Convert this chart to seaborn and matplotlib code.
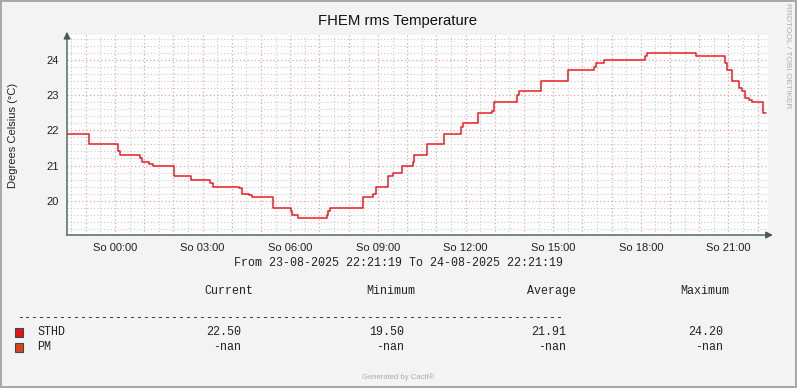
# Cacti / RRDtool style temperature graph rebuilt with seaborn
import matplotlib
matplotlib.use("Agg")
import matplotlib.pyplot as plt
import matplotlib.dates as mdates
import numpy as np
import pandas as pd
import seaborn as sns
from matplotlib import ticker
from matplotlib.patches import Rectangle

# step changes of the STHD sensor (time of change, new value)
times = ["2025-08-23 22:21", "2025-08-23 23:07", "2025-08-24 00:06", "2025-08-24 00:10",
         "2025-08-24 00:51", "2025-08-24 00:55", "2025-08-24 01:10", "2025-08-24 01:17",
         "2025-08-24 02:01", "2025-08-24 02:37", "2025-08-24 03:15", "2025-08-24 03:22",
         "2025-08-24 04:14", "2025-08-24 04:20", "2025-08-24 04:35", "2025-08-24 04:42",
         "2025-08-24 05:25", "2025-08-24 06:01", "2025-08-24 06:04", "2025-08-24 06:16",
         "2025-08-24 07:16", "2025-08-24 07:18", "2025-08-24 07:22", "2025-08-24 08:29",
         "2025-08-24 08:50", "2025-08-24 08:57", "2025-08-24 09:21", "2025-08-24 09:31",
         "2025-08-24 09:49", "2025-08-24 10:12", "2025-08-24 10:15", "2025-08-24 10:41",
         "2025-08-24 11:15", "2025-08-24 11:51", "2025-08-24 11:54", "2025-08-24 12:25",
         "2025-08-24 12:54", "2025-08-24 12:59", "2025-08-24 13:46", "2025-08-24 13:49",
         "2025-08-24 14:34", "2025-08-24 15:30", "2025-08-24 15:31", "2025-08-24 16:23",
         "2025-08-24 16:28", "2025-08-24 16:44", "2025-08-24 18:08", "2025-08-24 18:12",
         "2025-08-24 19:53", "2025-08-24 20:54", "2025-08-24 20:57", "2025-08-24 21:08",
         "2025-08-24 21:22", "2025-08-24 21:28", "2025-08-24 21:35", "2025-08-24 21:42",
         "2025-08-24 21:49", "2025-08-24 22:11", "2025-08-24 22:18"]
temps = [21.9, 21.6, 21.4, 21.3,
         21.2, 21.1, 21.05, 21.0,
         20.7, 20.6, 20.5, 20.4,
         20.35, 20.2, 20.15, 20.1,
         19.8, 19.7, 19.6, 19.5,
         19.6, 19.7, 19.8, 20.1,
         20.2, 20.4, 20.7, 20.8,
         21.0, 21.1, 21.3, 21.6,
         21.9, 22.1, 22.2, 22.5,
         22.55, 22.8, 23.0, 23.1,
         23.4, 23.45, 23.7, 23.8,
         23.9, 24.0, 24.1, 24.2,
         24.1, 23.9, 23.7, 23.4,
         23.2, 23.1, 22.9, 22.85,
         22.8, 22.5, 22.5]

start = "2025-08-23 22:21:19"
end = "2025-08-24 22:21:19"
yticks = [20, 21, 22, 23, 24]

legend_cols = ["Current", "Minimum", "Average", "Maximum"]
sthd_stats = ["22.50", "19.50", "21.91", "24.20"]
pm_stats = ["-nan", "-nan", "-nan", "-nan"]

W, H = 797, 388
bg = "#f3f3f3"
axis_col = "#3f5f52"
line_col = "#ec1c24"

sns.set_style("white")
plt.rcParams["font.family"] = ["Liberation Sans", "DejaVu Sans"]

df = pd.DataFrame({"time": pd.to_datetime(times), "temp": temps})

fig = plt.figure(figsize=(W / 100, H / 100), dpi=100)
fig.patch.set_facecolor(bg)
fig.patch.set_edgecolor("#a8a8a8")
fig.patch.set_linewidth(1.5)


def px(x, y):
    return x / W, 1 - y / H


ax = fig.add_axes([67 / W, 1 - 235 / H, (768 - 67) / W, 200 / H])
ax.set_facecolor("white")

sns.lineplot(data=df, x="time", y="temp", drawstyle="steps-post", color=line_col,
             linewidth=1.1, ax=ax, zorder=3)

ax.set_xlim(pd.Timestamp(start), pd.Timestamp(end))
ax.set_ylim(19.03, 24.7)

# grid: red dotted majors, grey dotted minors
ax.xaxis.set_major_locator(mdates.HourLocator())
ax.xaxis.set_minor_locator(mdates.MinuteLocator(byminute=[30]))
ax.xaxis.set_major_formatter(ticker.FuncFormatter(
    lambda v, p: "So " + mdates.num2date(v).strftime("%H:%M") if mdates.num2date(v).hour % 3 == 0 else ""))
ax.set_yticks(yticks)
ax.yaxis.set_minor_locator(ticker.MultipleLocator(0.2))

ax.grid(which="minor", color="#c8c8c8", linestyle=(0, (1, 2)), linewidth=0.8)
ax.grid(which="major", color="#e7a3a3", linestyle=(0, (1, 2)), linewidth=0.9)

ax.tick_params(which="major", direction="out", length=3, width=0.8, color=axis_col,
               labelsize=8, labelcolor="#222222", pad=3)
ax.tick_params(which="minor", length=0)

for s in ax.spines.values():
    s.set_visible(False)

# axis lines with arrow heads
ax.annotate("", xy=(0, 1.03), xytext=(0, -0.01), xycoords="axes fraction",
            arrowprops=dict(arrowstyle="-|>,head_length=0.4,head_width=0.2", color=axis_col, lw=1),
            annotation_clip=False)
ax.annotate("", xy=(1.011, 0), xytext=(-0.005, 0), xycoords="axes fraction",
            arrowprops=dict(arrowstyle="-|>,head_length=0.4,head_width=0.2", color=axis_col, lw=1),
            annotation_clip=False)

ax.set_xlabel("")
ax.set_ylabel("Degrees Celsius (°C)", fontsize=8, color="#222222", labelpad=20)

fig.text(*px(398, 21), "FHEM rms Temperature", fontsize=10.7, color="#111111",
         ha="center", va="center")
fig.text(*px(788, 56), "RRDTOOL / TOBI OETIKER", fontsize=6, color="#b0b0b0",
         ha="center", va="center", rotation=270)

mono = dict(family=["Liberation Mono", "DejaVu Sans Mono"], fontsize=8.4, color="#222222")
fig.text(*px(398, 263), f"From {pd.Timestamp(start):%d-%m-%Y %H:%M:%S} To {pd.Timestamp(end):%d-%m-%Y %H:%M:%S}",
         ha="center", va="center", **mono)

head_right = [253, 415, 576, 729]
val_right = [241, 404, 566, 723]
for name, xr in zip(legend_cols, head_right):
    fig.text(*px(xr, 291), name, ha="right", va="center", **mono)

fig.text(*px(17, 318), "-" * 78, ha="left", va="center", **mono)

rows = [("STHD", sthd_stats, "#ee1111", 332), ("PM", pm_stats, "#e0401c", 347)]
for name, stats, col, y in rows:
    fig.patches.append(Rectangle(px(15, y + 4.5), 8 / W, 9 / H, transform=fig.transFigure,
                                 facecolor=col, edgecolor="#2f4f4f", linewidth=0.8))
    fig.text(*px(37, y), name, ha="left", va="center", **mono)
    for val, xr in zip(stats, val_right):
        fig.text(*px(xr, y), val, ha="right", va="center", **mono)

fig.text(*px(398, 377), "Generated by Cacti®", fontsize=5.5, color="#aaaaaa",
         ha="center", va="center")

fig.savefig("out.png", dpi=100, facecolor=bg, edgecolor=fig.patch.get_edgecolor())
